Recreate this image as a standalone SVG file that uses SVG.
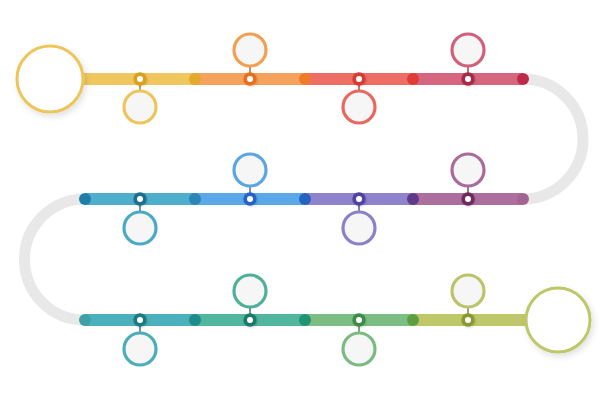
<svg xmlns="http://www.w3.org/2000/svg" width="600" height="400" viewBox="0 0 600 400">
<defs>
<filter id="sh" x="-30%" y="-30%" width="160%" height="160%">
<feDropShadow dx="2" dy="3" stdDeviation="3" flood-color="#000" flood-opacity="0.12"/>
</filter>
<filter id="sh2" x="-50%" y="-50%" width="200%" height="200%">
<feDropShadow dx="1" dy="1" stdDeviation="1" flood-color="#000" flood-opacity="0.15"/>
</filter>
</defs>
<style>
.seg{stroke-width:12;fill:none;stroke-linecap:butt}
.arc{stroke:#e8e8e8;stroke-width:11;fill:none}
.bub{fill:#f6f6f6;stroke-width:3.2}
.big{fill:#fff;stroke-width:3}
.stem{stroke-width:1.2}
.hole{fill:#fff}
</style>
<rect width="600" height="400" fill="#fff"/>
<g id="connectors">
<path class="arc" d="M523 79 A60 60 0 0 1 523 199"/>
<path class="arc" d="M85 199 A60.5 60.5 0 0 0 85 320"/>
<line class="seg" x1="84" y1="79" x2="195" y2="79" stroke="#efc75e"/>
<line class="seg" x1="195" y1="79" x2="305" y2="79" stroke="#f5a35c"/>
<line class="seg" x1="305" y1="79" x2="413" y2="79" stroke="#ee6e66"/>
<line class="seg" x1="413" y1="79" x2="523" y2="79" stroke="#d6657f"/>
<line class="seg" x1="85" y1="199" x2="195" y2="199" stroke="#4dafcb"/>
<line class="seg" x1="195" y1="199" x2="305" y2="199" stroke="#5aa8e8"/>
<line class="seg" x1="305" y1="199" x2="413" y2="199" stroke="#8e83cc"/>
<line class="seg" x1="413" y1="199" x2="523" y2="199" stroke="#ac6e9e"/>
<line class="seg" x1="85" y1="320" x2="195" y2="320" stroke="#4bb0bb"/>
<line class="seg" x1="195" y1="320" x2="305" y2="320" stroke="#52b59e"/>
<line class="seg" x1="305" y1="320" x2="413" y2="320" stroke="#7dbe84"/>
<line class="seg" x1="413" y1="320" x2="527" y2="320" stroke="#bec76a"/>
<circle cx="195" cy="79" r="6" fill="#e3a92a"/>
<circle cx="305" cy="79" r="6" fill="#ee7b2a"/>
<circle cx="413" cy="79" r="6" fill="#e03b35"/>
<circle cx="523" cy="79" r="6" fill="#c0284a"/>
<circle cx="85" cy="199" r="6" fill="#1f7ea5"/>
<circle cx="195" cy="199" r="6" fill="#2b83b8"/>
<circle cx="305" cy="199" r="6" fill="#2563c0"/>
<circle cx="413" cy="199" r="6" fill="#5e3a8a"/>
<circle cx="523" cy="199" r="6" fill="#a36493"/>
<circle cx="85" cy="320" r="6" fill="#3ea0a8"/>
<circle cx="195" cy="320" r="6" fill="#1e8c8a"/>
<circle cx="305" cy="320" r="6" fill="#1f9470"/>
<circle cx="413" cy="320" r="6" fill="#5ba040"/>
</g>
<g id="start" filter="url(#sh)"><circle class="big" cx="50" cy="79" r="33" stroke="#edc55a"/></g>
<g id="end" filter="url(#sh)"><circle class="big" cx="558" cy="320" r="32" stroke="#bec76a"/></g>
<g id="s1"><line class="stem" x1="140" y1="79" x2="140" y2="91" stroke="#8a6a10"/><circle class="bub" cx="140" cy="107" r="16" stroke="#edc55a"/><circle cx="140" cy="79" r="6.7" fill="#d9a21b" filter="url(#sh2)"/><circle class="hole" cx="140" cy="79" r="3"/></g>
<g id="s2"><line class="stem" x1="250" y1="66" x2="250" y2="79" stroke="#9a4a10"/><circle class="bub" cx="250" cy="50" r="16" stroke="#f0a050"/><circle cx="250" cy="79" r="6.7" fill="#e8701e" filter="url(#sh2)"/><circle class="hole" cx="250" cy="79" r="3"/></g>
<g id="s3"><line class="stem" x1="359" y1="79" x2="359" y2="91" stroke="#8a2a20"/><circle class="bub" cx="359" cy="107" r="16" stroke="#e8675e"/><circle cx="359" cy="79" r="6.7" fill="#d83a33" filter="url(#sh2)"/><circle class="hole" cx="359" cy="79" r="3"/></g>
<g id="s4"><line class="stem" x1="468" y1="66" x2="468" y2="79" stroke="#6a1a30"/><circle class="bub" cx="468" cy="50" r="16" stroke="#d0607d"/><circle cx="468" cy="79" r="6.7" fill="#a52a4a" filter="url(#sh2)"/><circle class="hole" cx="468" cy="79" r="3"/></g>
<g id="s5"><line class="stem" x1="140" y1="199" x2="140" y2="212" stroke="#1e4e6c"/><circle class="bub" cx="140" cy="228" r="16" stroke="#4aa9c5"/><circle cx="140" cy="199" r="6.7" fill="#1e6e8c" filter="url(#sh2)"/><circle class="hole" cx="140" cy="199" r="3"/></g>
<g id="s6"><line class="stem" x1="250" y1="186" x2="250" y2="199" stroke="#1a4a9a"/><circle class="bub" cx="250" cy="170" r="16" stroke="#5ba6e0"/><circle cx="250" cy="199" r="6.7" fill="#2563c8" filter="url(#sh2)"/><circle class="hole" cx="250" cy="199" r="3"/></g>
<g id="s7"><line class="stem" x1="359" y1="199" x2="359" y2="212" stroke="#3a2a80"/><circle class="bub" cx="359" cy="228" r="16" stroke="#8d80c8"/><circle cx="359" cy="199" r="6.7" fill="#5342a0" filter="url(#sh2)"/><circle class="hole" cx="359" cy="199" r="3"/></g>
<g id="s8"><line class="stem" x1="468" y1="186" x2="468" y2="199" stroke="#4e1c44"/><circle class="bub" cx="468" cy="170" r="16" stroke="#a86b9b"/><circle cx="468" cy="199" r="6.7" fill="#6e2c5e" filter="url(#sh2)"/><circle class="hole" cx="468" cy="199" r="3"/></g>
<g id="s9"><line class="stem" x1="140" y1="320" x2="140" y2="333" stroke="#14565a"/><circle class="bub" cx="140" cy="349" r="16" stroke="#4aadb8"/><circle cx="140" cy="320" r="6.7" fill="#1d7a80" filter="url(#sh2)"/><circle class="hole" cx="140" cy="320" r="3"/></g>
<g id="s10"><line class="stem" x1="250" y1="307" x2="250" y2="320" stroke="#14564c"/><circle class="bub" cx="250" cy="291" r="16" stroke="#50af9a"/><circle cx="250" cy="320" r="6.7" fill="#1d7a6c" filter="url(#sh2)"/><circle class="hole" cx="250" cy="320" r="3"/></g>
<g id="s11"><line class="stem" x1="359" y1="320" x2="359" y2="333" stroke="#2a6a34"/><circle class="bub" cx="359" cy="349" r="16" stroke="#7abc80"/><circle cx="359" cy="320" r="6.7" fill="#3c8c48" filter="url(#sh2)"/><circle class="hole" cx="359" cy="320" r="3"/></g>
<g id="s12"><line class="stem" x1="468" y1="307" x2="468" y2="320" stroke="#5a6a20"/><circle class="bub" cx="468" cy="291" r="16" stroke="#bcc46a"/><circle cx="468" cy="320" r="6.7" fill="#8a9a30" filter="url(#sh2)"/><circle class="hole" cx="468" cy="320" r="3"/></g>
</svg>
